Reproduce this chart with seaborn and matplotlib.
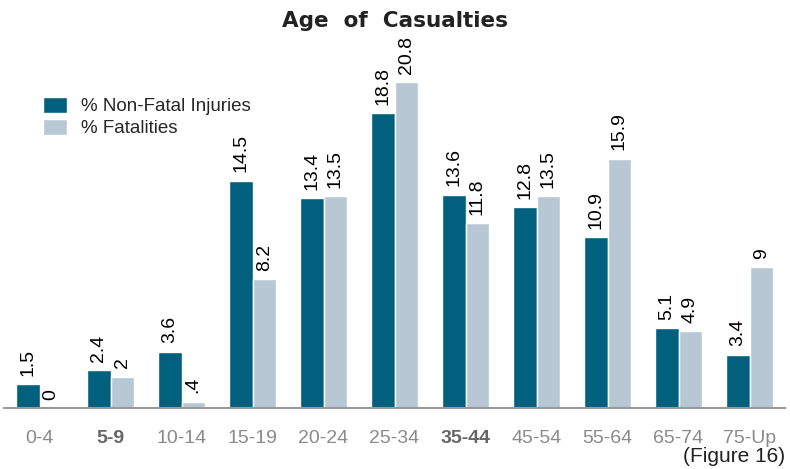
import pandas as pd
import matplotlib.pyplot as plt
import seaborn as sns

# Age groups and percentage of casualties
age_groups = ["0-4", "5-9", "10-14", "15-19", "20-24", "25-34",
              "35-44", "45-54", "55-64", "65-74", "75-Up"]
non_fatal = [1.5, 2.4, 3.6, 14.5, 13.4, 18.8, 13.6, 12.8, 10.9, 5.1, 3.4]
fatal = [0, 2, 0.4, 8.2, 13.5, 20.8, 11.8, 13.5, 15.9, 4.9, 9]
non_fatal_labels = ["1.5", "2.4", "3.6", "14.5", "13.4", "18.8", "13.6", "12.8", "10.9", "5.1", "3.4"]
fatal_labels = ["0", "2", ".4", "8.2", "13.5", "20.8", "11.8", "13.5", "15.9", "4.9", "9"]
series_names = ["% Non-Fatal Injuries", "% Fatalities"]

df = pd.concat([
    pd.DataFrame({"Age": age_groups, "Pct": non_fatal, "Type": series_names[0]}),
    pd.DataFrame({"Age": age_groups, "Pct": fatal, "Type": series_names[1]}),
], ignore_index=True)

sns.set_style("white")
plt.rcParams["font.family"] = ["Liberation Sans", "DejaVu Sans"]

fig = plt.figure(figsize=(7.9, 4.69), dpi=100)
ax = fig.add_axes([4 / 790, 61 / 469, 781 / 790, 348 / 469])

sns.barplot(data=df, x="Age", y="Pct", hue="Type", order=age_groups,
            palette=["#00607e", "#b7c7d3"], width=0.66, ax=ax,
            saturation=1, legend=True)

# Value labels, rotated
for cont, labels in zip(ax.containers, [non_fatal_labels, fatal_labels]):
    ax.bar_label(cont, labels=labels, rotation=90, padding=6,
                 fontsize=14, color="black")

ax.set_ylim(0, 22.2)
ax.set_xlim(-0.5, len(age_groups) - 0.5)
ax.set_yticks([])
ax.set_xlabel("")
ax.set_ylabel("")
for side in ["top", "right", "left"]:
    ax.spines[side].set_visible(False)
ax.spines["bottom"].set_color("#999999")
ax.spines["bottom"].set_linewidth(1.5)

ax.tick_params(axis="x", length=0, pad=16, labelsize=14, labelcolor="#8a8a8a")
for lbl in ax.get_xticklabels():
    if lbl.get_text() in ("5-9", "35-44"):
        lbl.set_color("#666666")
        lbl.set_fontweight("bold")

leg = ax.legend(loc="upper left", bbox_to_anchor=(0.04, 0.915), frameon=False,
                fontsize=13.5, handlelength=1.3, handleheight=0.9,
                handletextpad=0.75, labelspacing=0.2, borderaxespad=0)

fig.text(0.5, 0.955, "Age  of  Casualties", ha="center", va="center",
         fontsize=15.5, fontweight="bold", family="DejaVu Sans", color="#222222")
fig.text(0.994, 0.027, "(Figure 16)", ha="right", va="center",
         fontsize=15, color="#222222")

plt.savefig("out.png", dpi=100)
